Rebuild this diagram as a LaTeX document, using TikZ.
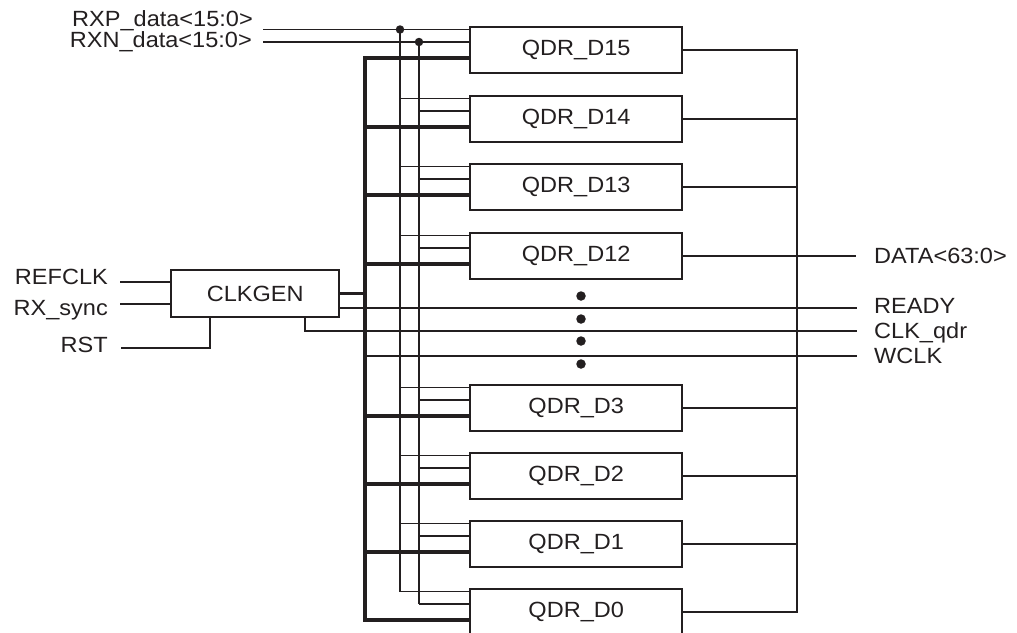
\documentclass[tikz,border=0pt]{standalone}
\usepackage{fontspec}
\setmainfont[FakeStretch=1.07]{Liberation Sans}
\definecolor{ink}{HTML}{231F20}
\newcommand\lblfont{\fontsize{22}{26}\selectfont}
\begin{document}
\begin{tikzpicture}[x=1pt,y=-1pt,
  box/.style={draw=ink, line width=2.4pt, minimum width=212pt, minimum height=46pt,
    inner sep=0pt, anchor=north west, font=\lblfont, text=ink},
  sig/.style={draw=ink, line width=1.2pt},
  busline/.style={draw=ink, line width=3.5pt, line join=miter},
  outw/.style={draw=ink, line width=2.1pt, line join=miter},
  jdot/.style={circle, fill=ink, inner sep=0pt, minimum size=8.5pt},
  lbl/.style={font=\lblfont, inner sep=0pt, text=ink}
]
\useasboundingbox (0,0) rectangle (1017,632);
\clip (0,0) rectangle (1017,632);

% guide coordinates
\coordinate (vp) at (400,0);
\coordinate (vn) at (419,0);
\coordinate (vb) at (365,0);
\coordinate (vr) at (797,0);
\coordinate (qx) at (305,0);
\coordinate (rx) at (210,0);

% QDR blocks
\foreach \n/\t in {15/26,14/95,13/163,12/232,3/384,2/452,1/520,0/588}{
  \node[box] (D\n) at (469,\t) {QDR\_D\n};
  \coordinate (p\n) at ([yshift=-3.5pt]D\n.north west);
  \coordinate (q\n) at ([yshift=-16pt]D\n.north west);
  \coordinate (c\n) at ([yshift=-32pt]D\n.north west);
  \draw[sig] (p\n -| vp) -- (p\n);
  \draw[sig] (q\n -| vn) -- (q\n);
  \draw[busline] (c\n -| vb) -- (c\n);
  \draw[outw] (D\n.east) -- (D\n.east -| vr);
}

% data inputs
\node[lbl, anchor=base east] (rxpl) at (253,26.5) {RXP\_data<15:0>};
\node[lbl, anchor=base east] (rxnl) at (252,47.5) {RXN\_data<15:0>};
\coordinate (rxpA) at (263,29.5);
\coordinate (rxnA) at (263,42);
\node[jdot] (jp) at (p15 -| vp) {};
\node[jdot] (jn) at (q15 -| vn) {};
\draw[sig] (rxpA) -- (jp.center) -- (p15);
\draw[sig] (rxnA |- q15) -- (jn.center) -- (q15);
\draw[sig] (jp.center) -- (p0 -| vp);
\draw[sig] (jn.center) -- (q0 -| vn);

% clock bus
\draw[busline] (c15) -- (c15 -| vb) -- (c0 -| vb) -- (c0);

% output bus
\draw[outw] (D15.east) -- (D15.east -| vr) -- (D0.east -| vr) -- (D0.east);

% CLKGEN
\node[box, minimum width=168pt, minimum height=47pt] (clk) at (170,269) {CLKGEN};
\draw[busline] (clk.east) -- (clk.east -| vb);

\node[lbl, anchor=base east] (refl) at (108,284) {REFCLK};
\node[lbl, anchor=base east] (rxsl) at (108,315) {RX\_sync};
\node[lbl, anchor=base east] (rstl) at (108,352) {RST};
\coordinate (refA) at (120,282);
\coordinate (rxsA) at (120,304);
\coordinate (rstA) at (121,348);
\draw[sig] (refA) -- (refA -| clk.west);
\draw[sig] (rxsA) -- (rxsA -| clk.west);
\draw[sig] (rstA) -- (rstA -| rx) -- (clk.south -| rx);

% outputs on the right
\node[lbl, anchor=base west] (datal) at (874,263) {DATA<63:0>};
\node[lbl, anchor=base west] (readyl) at (874,313) {READY};
\node[lbl, anchor=base west] (clkql) at (874,338) {CLK\_qdr};
\node[lbl, anchor=base west] (wclkl) at (874,363) {WCLK};
\coordinate (dataend) at (856,0);
\coordinate (readyend) at (857,308);
\coordinate (clkqend) at (857,331);
\coordinate (wclkend) at (857,356);
\draw[outw] (D12.east) -- (D12.east -| dataend);
\draw[sig] (clk.east |- readyend) -- (readyend);
\draw[sig] (clk.south -| qx) -- (qx |- clkqend) -- (clkqend);
\draw[sig] (wclkend -| vb) -- (wclkend);

% ellipsis dots
\node[jdot, minimum size=9.5pt] (e1) at (581,296) {};
\node[jdot, minimum size=9.5pt] (e2) at (581,319) {};
\node[jdot, minimum size=9.5pt] (e3) at (581,341) {};
\node[jdot, minimum size=9.5pt] (e4) at (581,364) {};
\end{tikzpicture}
\end{document}
